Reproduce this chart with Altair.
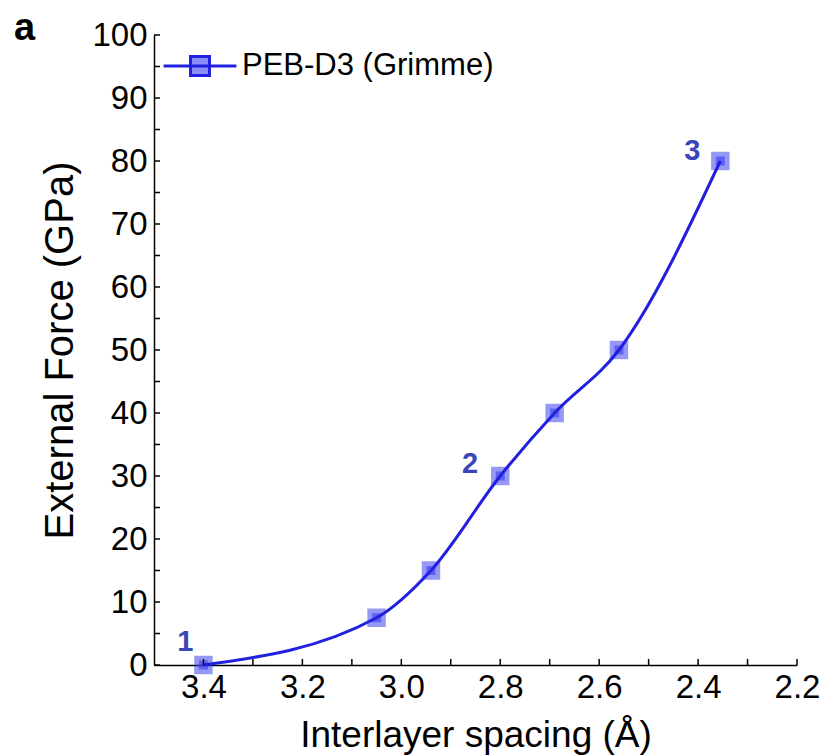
import altair as alt
import pandas as pd

# ---- data ----
spacing = [3.40, 3.05, 2.94, 2.80, 2.69, 2.56, 2.355]
force = [0.0, 7.5, 15.0, 30.0, 40.0, 50.0, 80.0]
state_labels = ["1", "", "", "2", "", "", "3"]
series_name = "PEB-D3 (Grimme)"
x_major = [3.4, 3.2, 3.0, 2.8, 2.6, 2.4, 2.2]
x_minor = [3.3, 3.1, 2.9, 2.7, 2.5, 2.3]
y_major = [0, 10, 20, 30, 40, 50, 60, 70, 80, 90, 100]
y_minor = [5, 15, 25, 35, 45, 55, 65, 75, 85, 95]

df = pd.DataFrame({"spacing": spacing, "force": force,
                   "label": state_labels, "series": series_name})
xt = pd.DataFrame({"spacing": x_major + x_minor})
yt = pd.DataFrame({"force": y_major + y_minor})

W, H = 643, 630
FONT = "Liberation Sans"
LINE = "#2020de"
LABEL = "#3a46b8"

xscale = alt.Scale(domain=[2.2, 3.5], reverse=True, nice=False, zero=False)
yscale = alt.Scale(domain=[0, 100], nice=False, zero=False)

x_axis = alt.Axis(values=x_major, format=".1f", title="Interlayer spacing (Å)",
                  ticks=False, grid=False, labelFontSize=33, labelPadding=6,
                  titleFontSize=37, titleY=81, titleBaseline="alphabetic",
                  titleFontWeight="normal", domainColor="black", domainWidth=1.5,
                  labelFlush=False)
y_axis = alt.Axis(values=y_major, format="d", title="External Force (GPa)",
                  ticks=False, grid=False, labelFontSize=33, labelPadding=7,
                  titleFontSize=40, titleX=-82, titleBaseline="alphabetic",
                  titleFontWeight="normal", domainColor="black", domainWidth=1.5,
                  labelFlush=False)

X = alt.X("spacing:Q", scale=xscale, axis=x_axis)
Y = alt.Y("force:Q", scale=yscale, axis=y_axis)

SYMBOL = "M-1,0H1M-0.26,-0.26H0.26V0.26H-0.26Z"

outer = alt.Chart(df).mark_square(size=340, color="#2b32ea", opacity=0.5).encode(x=X, y=Y)
inner = alt.Chart(df).mark_square(size=81, color="#3a3cf0", opacity=0.6).encode(x=X, y=Y)
line = alt.Chart(df).mark_line(interpolate="monotone", strokeWidth=3).encode(
    x=X, y=Y,
    order=alt.Order("spacing:Q", sort="descending"),
    color=alt.Color("series:N", scale=alt.Scale(range=[LINE]),
                    legend=alt.Legend(title=None, orient="none", legendX=8, legendY=-7,
                                      symbolType=SYMBOL, symbolSize=5300,
                                      symbolStrokeWidth=3, symbolFillColor="#8a8ef5",
                                      labelFont=FONT, labelFontSize=31, labelLimit=0,
                                      labelColor="black", labelOffset=4)),
)

offsets = {"1": (-10, -14), "2": (-22, -3), "3": (-20, -1)}
texts = []
for lab, (ddx, ddy) in offsets.items():
    texts.append(
        alt.Chart(df).transform_filter(alt.datum.label == lab)
        .mark_text(align="right", baseline="alphabetic", dx=ddx, dy=ddy,
                   font=FONT, fontSize=29, fontWeight="bold", color=LABEL)
        .encode(x=X, y=Y, text="label:N")
    )

xticks = alt.Chart(xt).mark_rule(color="black", strokeWidth=1.5).encode(
    x=X, y=alt.value(H), y2=alt.value(H - 6))
yticks = alt.Chart(yt).mark_rule(color="black", strokeWidth=1.5).encode(
    y=Y, x=alt.value(0), x2=alt.value(6))

chart = alt.layer(outer, inner, line, *texts, xticks, yticks).properties(
    width=W, height=H,
    autosize=alt.AutoSizeParams(type="none"),
    padding={"left": 154, "top": 35, "right": 27, "bottom": 90},
    title=alt.TitleParams("a", anchor="start", frame="group", fontSize=38,
                          fontWeight="bold", font=FONT, color="black",
                          dx=-140, dy=59, offset=0, baseline="alphabetic"),
).configure(background="white").configure_view(stroke=None).configure_axis(
    labelFont=FONT, titleFont=FONT, labelColor="black", titleColor="black"
)

chart.save("out.html", embed_options={"renderer": "svg", "actions": False})
